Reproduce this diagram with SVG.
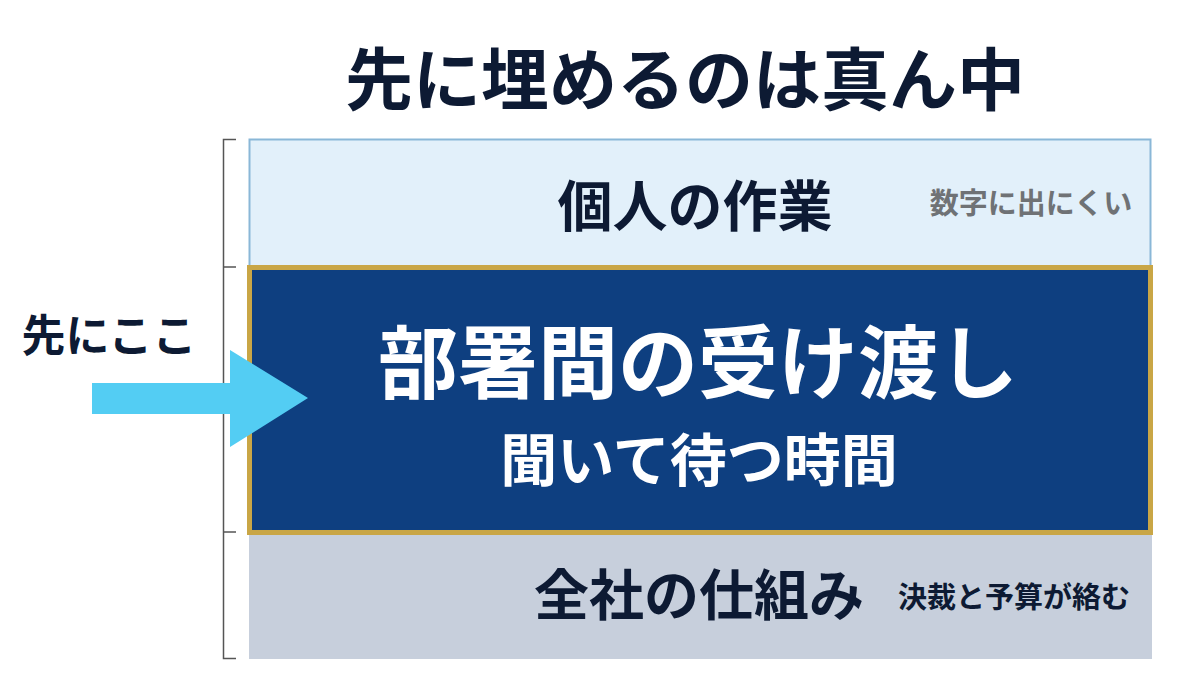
<svg xmlns="http://www.w3.org/2000/svg" width="1200" height="691" viewBox="0 0 1200 691">
<style>
.jp{font-family:"Noto Sans CJK JP","Noto Sans",sans-serif;font-weight:700;text-anchor:middle}
.dark{fill:#0d1a33}
.bracket{fill:none;stroke:#555;stroke-width:1.5}
</style>
<rect width="1200" height="691" fill="#ffffff"/>
<text id="title" class="jp dark" x="685" y="105" font-size="68" font-weight="900">先に埋めるのは真ん中</text>
<g id="bracket">
<path class="bracket" d="M236 139.5H223.5V658.5H236M223.5 267H236M223.5 532H236"/>
</g>
<g id="top">
<rect x="249.5" y="139.5" width="901" height="127" fill="#e2f0fa" stroke="#8ab7d7" stroke-width="2"/>
<text class="jp dark" x="695" y="226" font-size="55">個人の作業</text>
<text class="jp" x="1031" y="214" font-size="29" fill="#6f7275">数字に出にくい</text>
</g>
<g id="bottom">
<rect x="249" y="535" width="903" height="124" fill="#c7cfdc"/>
<text class="jp dark" x="699" y="615" font-size="55">全社の仕組み</text>
<text class="jp dark" x="1014" y="608" font-size="29">決裁と予算が絡む</text>
</g>
<g id="middle">
<rect x="249.5" y="267.5" width="901" height="265" fill="#0e3f80" stroke="#c9a646" stroke-width="5"/>
<text class="jp" x="698" y="392" font-size="80" fill="#ffffff">部署間の受け渡し</text>
<text class="jp" x="699" y="481" font-size="57" fill="#ffffff">聞いて待つ時間</text>
</g>
<g id="pointer">
<text class="jp dark" x="109" y="352" font-size="44">先にここ</text>
<polygon points="92,383 230,383 230,350 308,398 230,447 230,414 92,414" fill="#53cdf3"/>
</g>
</svg>
